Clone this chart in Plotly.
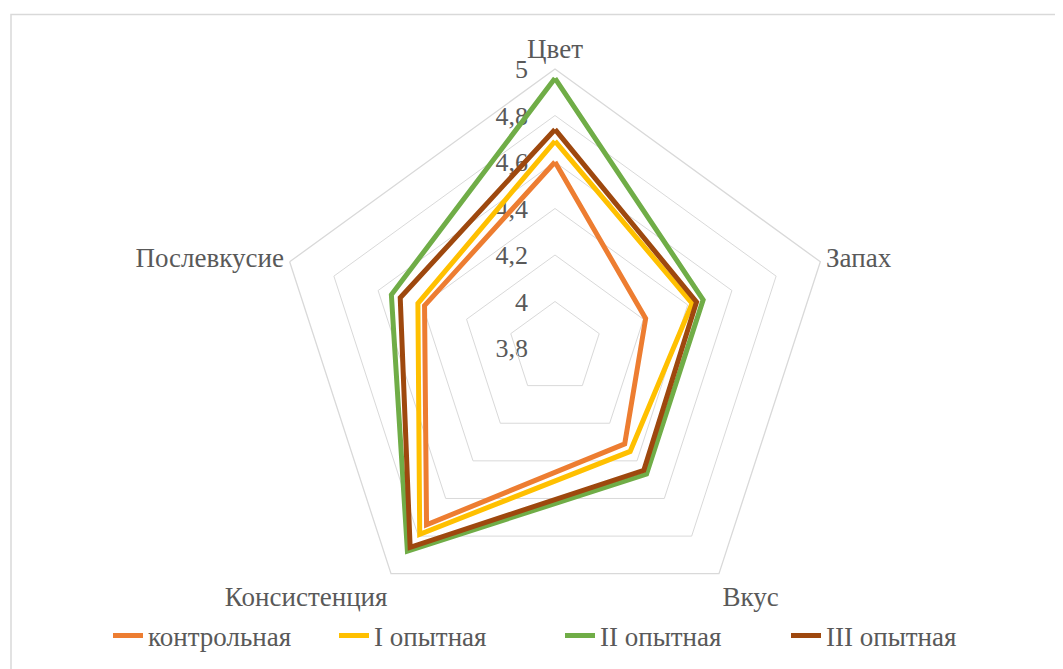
import plotly.graph_objects as go

categories = ["Цвет", "Запах", "Вкус", "Консистенция", "Послевкусие"]
series_names = ["контрольная", "I опытная", "II опытная", "III опытная"]
kontrol = [4.6, 4.21, 4.31, 4.74, 4.39]
opyt1 = [4.69, 4.42, 4.35, 4.79, 4.42]
opyt2 = [4.96, 4.47, 4.47, 4.88, 4.54]
opyt3 = [4.74, 4.44, 4.45, 4.86, 4.50]
colors = ["#ED7D31", "#FFC000", "#70AD47", "#9E480E"]
tick_vals = [3.8, 4.0, 4.2, 4.4, 4.6, 4.8, 5.0]
r_min, r_max = 3.8, 5.0

W, H = 1063, 669
OFF = 8  # page body margin offset
cx, cy, R = 555 - OFF, 348 - OFF, 279

fig = go.Figure()
for name, vals, col in zip(series_names, [kontrol, opyt1, opyt2, opyt3], colors):
    fig.add_trace(go.Scatterpolar(
        r=vals + vals[:1],
        theta=categories + categories[:1],
        mode="lines",
        name=name,
        line=dict(color=col, width=5),
    ))

# empty cartesian trace so a value axis can carry the radial tick labels
fig.add_trace(go.Scatter(x=[], y=[], showlegend=False, hoverinfo="skip"))

fig.update_layout(
    width=W, height=H,
    margin=dict(l=0, r=0, t=0, b=0, autoexpand=False),
    paper_bgcolor="white",
    plot_bgcolor="rgba(0,0,0,0)",
    separators=", ",
    font=dict(family="Liberation Serif", size=27, color="#595959"),
    polar=dict(
        domain=dict(x=[(cx - R) / W, (cx + R) / W], y=[1 - (cy + R) / H, 1 - (cy - R) / H]),
        gridshape="linear",
        bgcolor="rgba(0,0,0,0)",
        radialaxis=dict(
            range=[r_min, r_max], tickvals=tick_vals, angle=90,
            showline=False, ticks="", gridcolor="#D9D9D9", gridwidth=1.3,
            showticklabels=False,
        ),
        angularaxis=dict(
            direction="clockwise", rotation=90, showgrid=False,
            showline=True, linecolor="#D9D9D9", linewidth=1.3, ticks="",
            tickfont=dict(size=27, color="#595959"),
        ),
    ),
    xaxis=dict(visible=False, domain=[0.45, 0.46], range=[0, 1], automargin=False),
    yaxis=dict(
        domain=[1 - cy / H, 1 - (cy - R) / H], range=[r_min, r_max],
        tickvals=tick_vals, anchor="free", position=(528 - OFF) / W,
        showgrid=False, zeroline=False, showline=False, ticks="",
        tickfont=dict(size=26, color="#595959"), fixedrange=True, automargin=False,
    ),
    legend=dict(
        orientation="h", x=(560 - OFF) / W, xanchor="center", y=1 - (636 - OFF) / H, yanchor="middle",
        font=dict(size=27, color="#595959"), itemwidth=30,
        entrywidth=181, entrywidthmode="pixels",
    ),
    shapes=[dict(type="rect", xref="paper", yref="paper",
                 x0=(11 - OFF) / W, x1=1.05, y0=-0.05, y1=1 - (14.5 - OFF) / H,
                 line=dict(color="#D9D9D9", width=1.5), layer="below")],
)

fig.write_html("out.html")
